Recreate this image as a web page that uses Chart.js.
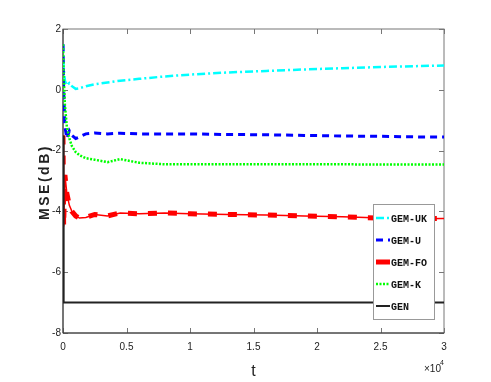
<!DOCTYPE html>
<html>
<head>
<meta charset="utf-8">
<script src="https://cdn.jsdelivr.net/npm/chart.js@4.4.1/dist/chart.umd.min.js"></script>
<style>
  body { margin: 0; background: #fff; }
  #wrap { width: 491px; height: 382px; position: relative; }
</style>
</head>
<body>
<div id="wrap"><canvas id="mseChart"></canvas></div>
<script>
// iteration index t (real units, axis shown x10^4)
const tVals = [0, 50, 150, 300, 500, 700, 1000, 1300, 1800, 2500, 3500, 4500, 6000, 8000, 10000, 13000, 16000, 19000, 22000, 25000, 28000, 30000];

// MSE in dB
const gemUK = [1.5, 0.7, 0.3, 0.15, 0.22, 0.12, 0.03, 0.05, 0.12, 0.18, 0.24, 0.3, 0.36, 0.44, 0.5, 0.57, 0.62, 0.67, 0.71, 0.75, 0.78, 0.8];
const gemU  = [1.5, 0.0, -1.2, -1.6, -1.35, -1.5, -1.6, -1.55, -1.45, -1.42, -1.45, -1.43, -1.45, -1.45, -1.45, -1.47, -1.48, -1.5, -1.52, -1.53, -1.55, -1.55];
const gemFO = [-1.5, -4.5, -2.8, -3.4, -3.8, -4.0, -4.15, -4.22, -4.2, -4.1, -4.15, -4.05, -4.08, -4.05, -4.08, -4.1, -4.12, -4.15, -4.18, -4.22, -4.24, -4.23];
const gemK  = [1.5, 0.5, -0.5, -1.2, -1.6, -1.85, -2.05, -2.15, -2.25, -2.3, -2.38, -2.28, -2.4, -2.45, -2.45, -2.45, -2.45, -2.45, -2.45, -2.46, -2.46, -2.46];
const gen   = [-1.5, -7, -7, -7, -7, -7, -7, -7, -7, -7, -7, -7, -7, -7, -7, -7, -7, -7, -7, -7, -7, -7];

const xTicks = [0, 5000, 10000, 15000, 20000, 25000, 30000];
const yTicks = [-8, -6, -4, -2, 0, 2];
const legendNames = ['GEM-UK', 'GEM-U', 'GEM-FO', 'GEM-K', 'GEN'];

const pts = (ys) => tVals.map((t, i) => ({ x: t, y: ys[i] }));

const line = (label, ys, color, width, dash) => ({
    label: label,
    data: pts(ys),
    borderColor: color,
    borderWidth: width,
    borderDash: dash,
    pointRadius: 0,
    fill: false,
    tension: 0
});

const datasets = [
    line('GEN', gen, '#222222', 2, []),
    line('GEM-FO', gemFO, '#ff0000', 1.5, []),
    line('GEM-FO marks', gemFO, '#ff0000', 5, [9, 11]),
    line('GEM-K', gemK, '#00ff00', 2.5, [2, 1.5]),
    line('GEM-U', gemU, '#0000ff', 3, [7, 5]),
    line('GEM-UK', gemUK, '#00ffff', 2.5, [8, 3, 2, 3])
];

// legend swatches, same order as legendNames
const legendStyles = [
    { color: '#00ffff', width: 2.5, dash: [8, 3, 2, 3] },
    { color: '#0000ff', width: 3, dash: [7, 5] },
    { color: '#ff0000', width: 5, dash: [] },
    { color: '#00ff00', width: 2.5, dash: [2, 1.5] },
    { color: '#222222', width: 2, dash: [] }
];

const frame = {
    id: 'frame',
    beforeDatasetsDraw(chart) {
        const { ctx, chartArea: a, scales } = chart;
        ctx.save();
        ctx.strokeStyle = '#777';
        ctx.lineWidth = 1;
        ctx.strokeRect(a.left, a.top, a.right - a.left, a.bottom - a.top);
        ctx.beginPath();
        xTicks.forEach(v => {
            const x = Math.round(scales.x.getPixelForValue(v)) + 0.5;
            ctx.moveTo(x, a.bottom); ctx.lineTo(x, a.bottom - 5);
            ctx.moveTo(x, a.top); ctx.lineTo(x, a.top + 5);
        });
        yTicks.forEach(v => {
            const y = Math.round(scales.y.getPixelForValue(v)) + 0.5;
            ctx.moveTo(a.left, y); ctx.lineTo(a.left + 5, y);
            ctx.moveTo(a.right, y); ctx.lineTo(a.right - 5, y);
        });
        ctx.stroke();
        // darker left and bottom axes
        ctx.strokeStyle = '#333';
        ctx.beginPath();
        ctx.moveTo(a.left, a.top); ctx.lineTo(a.left, a.bottom); ctx.lineTo(a.right, a.bottom);
        ctx.stroke();
        ctx.restore();
    },
    afterDraw(chart) {
        const { ctx, chartArea: a } = chart;
        ctx.save();
        // axis titles
        ctx.fillStyle = '#222';
        ctx.textAlign = 'center';
        ctx.textBaseline = 'middle';
        ctx.font = '16px "Liberation Sans", Arial, sans-serif';
        ctx.fillText('t', (a.left + a.right) / 2, 372);
        ctx.save();
        ctx.translate(45, 182);
        ctx.rotate(-Math.PI / 2);
        ctx.font = 'bold 14px "Liberation Sans", Arial, sans-serif';
        ctx.letterSpacing = '2.5px';
        ctx.fillText('MSE(dB)', 0, 0);
        ctx.restore();
        ctx.font = '10px "Liberation Sans", Arial, sans-serif';
        ctx.textAlign = 'left';
        ctx.fillText('\u00d710', 424, 369);
        ctx.font = '7px "Liberation Sans", Arial, sans-serif';
        ctx.fillText('4', 440, 363);

        // legend box
        const bx = 373, by = 204, bw = 61, bh = 115;
        ctx.fillStyle = '#fff';
        ctx.fillRect(bx, by, bw, bh);
        ctx.strokeStyle = '#999';
        ctx.lineWidth = 1;
        ctx.strokeRect(bx + 0.5, by + 0.5, bw, bh);
        ctx.font = 'bold 10px "Liberation Mono", "Courier New", monospace';
        ctx.textBaseline = 'middle';
        legendNames.forEach((name, i) => {
            const y = 218 + i * 22;
            const s = legendStyles[i];
            ctx.strokeStyle = s.color;
            ctx.lineWidth = s.width;
            ctx.setLineDash(s.dash);
            ctx.beginPath();
            ctx.moveTo(376, y); ctx.lineTo(390, y);
            ctx.stroke();
            ctx.setLineDash([]);
            ctx.fillStyle = '#111';
            ctx.fillText(name, 391, y + 1);
        });
        ctx.restore();
    }
};

new Chart(document.getElementById('mseChart'), {
    type: 'line',
    data: { datasets: datasets },
    options: {
        responsive: true,
        maintainAspectRatio: false,
        animation: false,
        layout: { padding: { left: 36, top: 29, right: 47, bottom: 0 } },
        plugins: { legend: { display: false }, tooltip: { enabled: false } },
        scales: {
            x: {
                type: 'linear',
                min: 0,
                max: 30000,
                afterFit: (s) => { s.height = 49; },
                afterBuildTicks: (s) => { s.ticks = xTicks.map(v => ({ value: v })); },
                grid: { display: false, drawTicks: false },
                border: { display: false },
                ticks: {
                    padding: 8,
                    maxRotation: 0,
                    color: '#222',
                    font: { family: '"Liberation Sans", Arial', size: 10 },
                    callback: (v) => String(v / 10000)
                }
            },
            y: {
                type: 'linear',
                min: -8,
                max: 2,
                afterFit: (s) => { s.width = 27; },
                afterBuildTicks: (s) => { s.ticks = yTicks.map(v => ({ value: v })); },
                grid: { display: false, drawTicks: false },
                border: { display: false },
                ticks: {
                    padding: 2,
                    color: '#222',
                    font: { family: '"Liberation Sans", Arial', size: 10 }
                }
            }
        }
    },
    plugins: [frame]
});
</script>
</body>
</html>
